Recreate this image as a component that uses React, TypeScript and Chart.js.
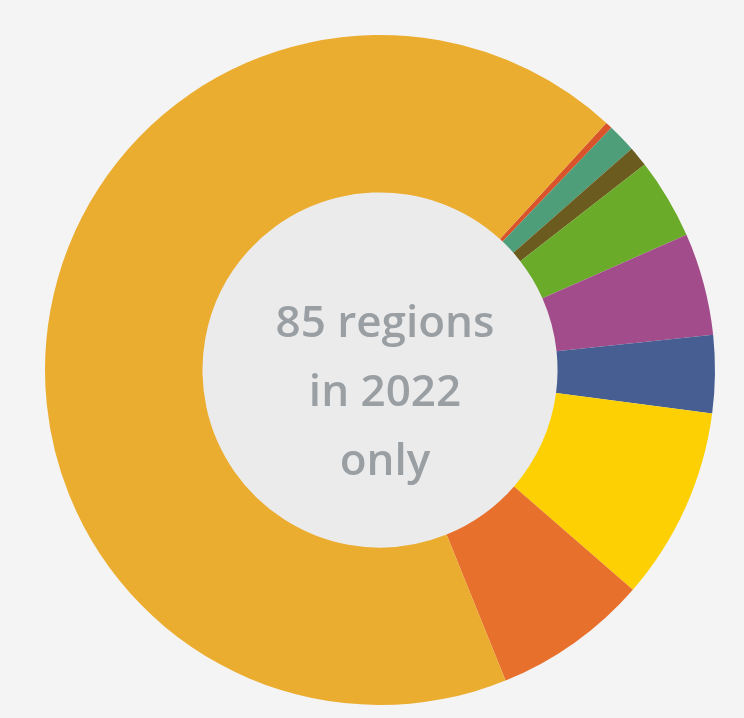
import React, { useEffect, useRef } from "react";
import { Chart, registerables } from "chart.js";

Chart.register(...registerables);

const categories = [
  "Category A",
  "Category B",
  "Category C",
  "Category D",
  "Category E",
  "Category F",
  "Category G",
  "Category H",
  "Category I",
];
const shares = [0.33, 1.39, 0.97, 3.89, 4.94, 3.75, 9.31, 7.5, 67.92];
const sliceColors = [
  "#D9532B",
  "#4E9E7A",
  "#6B5B1F",
  "#6AAB2A",
  "#A34C8C",
  "#475E92",
  "#FCD002",
  "#E8702D",
  "#EBAD2F",
];
const centerLines = ["85 regions", "in 2022", "only"];

export default function App() {
  const ref = useRef<HTMLCanvasElement | null>(null);

  useEffect(() => {
    document.body.style.margin = "0";
    document.body.style.background = "#f4f4f4";
    const canvas = ref.current;
    if (!canvas) return;

    const holePlugin = {
      id: "holeFill",
      beforeDatasetsDraw(chart: any) {
        const meta = chart.getDatasetMeta(0);
        const arc = meta.data[0];
        if (!arc) return;
        const { x, y, innerRadius } = arc.getProps(["x", "y", "innerRadius"], true);
        const ctx = chart.ctx;
        ctx.save();
        ctx.beginPath();
        ctx.arc(x, y, innerRadius + 1, 0, Math.PI * 2);
        ctx.fillStyle = "#ebebeb";
        ctx.fill();
        ctx.font = "600 44px 'Open Sans', 'DejaVu Sans', sans-serif";
        ctx.fillStyle = "#9a9fa4";
        ctx.textAlign = "center";
        ctx.textBaseline = "middle";
        const gap = 69;
        centerLines.forEach((t, i) => {
          ctx.fillText(t, x + 5, y - 46 + i * gap);
        });
        ctx.restore();
      },
    };

    const chart = new Chart(canvas, {
      type: "doughnut",
      data: {
        labels: categories,
        datasets: [
          {
            data: shares,
            backgroundColor: sliceColors,
            borderWidth: 0,
          },
        ],
      },
      options: {
        animation: false,
        responsive: false,
        rotation: 42.5,
        cutout: "53%",
        layout: { padding: { left: 45, right: 29, top: 35, bottom: 13 } },
        plugins: {
          legend: { display: false },
          tooltip: { enabled: false },
        },
      },
      plugins: [holePlugin],
    });
    return () => chart.destroy();
  }, []);

  return (
    <div style={{ width: 744, height: 718, background: "#f4f4f4" }}>
      <canvas ref={ref} width={744} height={718} style={{ display: "block" }} />
    </div>
  );
}
